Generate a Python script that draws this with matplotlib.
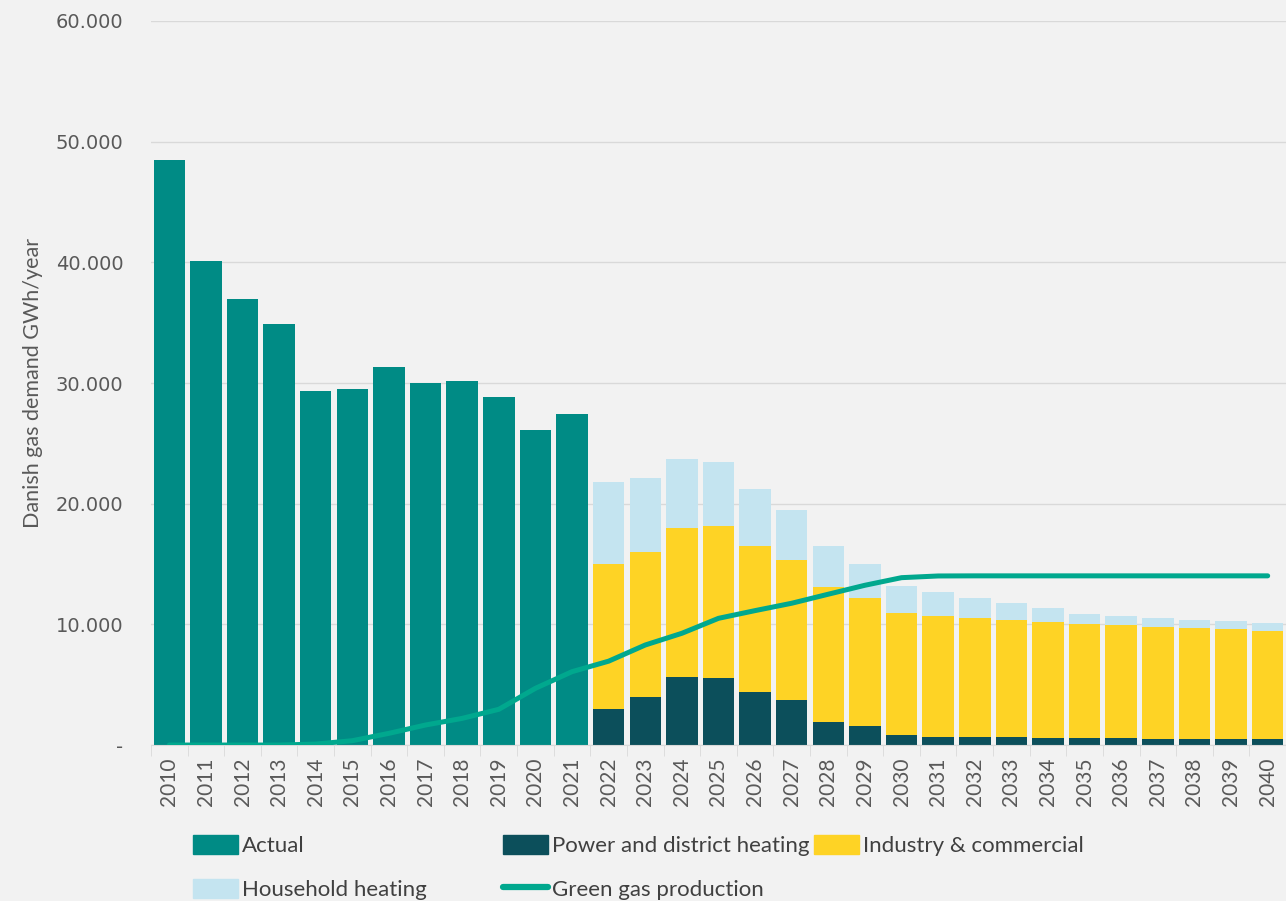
import matplotlib
matplotlib.use("Agg")
import matplotlib.pyplot as plt
import numpy as np
from matplotlib.patches import Patch
from matplotlib.lines import Line2D

years = [str(y) for y in range(2010, 2041)]

# actual demand 2010-2021 (GWh/year)
actual = [48500, 40100, 37000, 34900, 29300, 29500, 31300, 30000, 30200, 28800, 26100, 27400]

# forecast 2022-2040, stacked
power = [2960, 3950, 5610, 5530, 4420, 3730, 1930, 1570, 800, 690, 690, 690, 610, 550, 550, 500, 500, 500, 500]
industry_top = [14980, 15980, 17970, 18130, 16500, 15370, 13080, 12190, 10950, 10700, 10560, 10370, 10170, 10000, 9920, 9780, 9670, 9590, 9480]
total_top = [21830, 22160, 23690, 23470, 21250, 19490, 16500, 15010, 13180, 12660, 12210, 11800, 11330, 10860, 10670, 10530, 10390, 10280, 10140]

green_gas = [0, 0, 0, 0, 80, 360, 970, 1660, 2210, 2960, 4700, 6080, 6950, 8290, 9260, 10500, 11140,
             11750, 12500, 13240, 13870, 14010, 14020, 14020, 14020, 14020, 14020, 14020, 14020, 14020, 14020]

industry = [t - p for t, p in zip(industry_top, power)]
household = [t - i for t, i in zip(total_top, industry_top)]

c_actual = "#008B85"
c_power = "#0C4F5B"
c_ind = "#FED325"
c_house = "#C4E4F0"
c_green = "#00A88E"
bg = "#F2F2F2"

fam = ["Lato", "DejaVu Sans"]

fig = plt.figure(figsize=(12.86, 9.01), dpi=100, facecolor=bg)
ax = fig.add_axes([0.1174, 0.1731, 0.8826, 0.8036])
ax.set_facecolor(bg)

x = np.arange(len(years))
xa = x[:len(actual)]
xf = x[len(actual):]
w = 0.86

ax.bar(xa, actual, width=w, color=c_actual, zorder=2)
ax.bar(xf, power, width=w, color=c_power, zorder=2)
ax.bar(xf, industry, width=w, bottom=power, color=c_ind, zorder=2)
ax.bar(xf, household, width=w, bottom=industry_top, color=c_house, zorder=2)
ax.plot(x, green_gas, color=c_green, lw=3.6, solid_capstyle="round", solid_joinstyle="round", zorder=3)

ax.set_xlim(-0.5, len(years) - 0.5)
ax.set_ylim(0, 60000)
ax.set_yticks(range(0, 60001, 10000))
ax.set_yticklabels(["-"] + [f"{v:,}".replace(",", ".") for v in range(10000, 60001, 10000)])
ax.yaxis.grid(True, color="#D9D9D9", lw=1)
ax.set_axisbelow(True)
for s in ["top", "right", "left"]:
    ax.spines[s].set_visible(False)
ax.spines["bottom"].set_color("#D9D9D9")

ax.set_xticks(x)
ax.set_xticklabels(years, rotation=90, family=fam, fontsize=15, color="#595959")
ax.set_xticks(np.arange(-0.5, len(years), 1), minor=True)
ax.tick_params(axis="x", which="major", length=0, pad=9)
ax.tick_params(axis="x", which="minor", length=8, color="#D9D9D9")
ax.tick_params(axis="y", length=0, pad=20, labelsize=14, labelcolor="#595959")

ax.set_ylabel("Danish gas demand GWh/year", family=fam, fontsize=15.5, color="#595959")
ax.yaxis.set_label_coords(-0.095, 0.5)

h_actual = Patch(color=c_actual, label="Actual")
h_house = Patch(color=c_house, label="Household heating")
h_power = Patch(color=c_power, label="Power and district heating")
h_green = Line2D([], [], color=c_green, lw=4.5, solid_capstyle="round", label="Green gas production")
h_ind = Patch(color=c_ind, label="Industry & commercial")

leg_kw = dict(frameon=False, loc="upper left", borderaxespad=0, borderpad=0,
              prop={"family": fam, "size": 16}, labelcolor="#404040",
              handlelength=2.05, handleheight=0.95, handletextpad=0.15, labelspacing=1.0)
leg1 = fig.legend(handles=[h_actual, h_house], bbox_to_anchor=(0.150, 0.073), **leg_kw)
leg2 = fig.legend(handles=[h_power, h_green, h_ind], ncol=2, columnspacing=0.2,
                  bbox_to_anchor=(0.391, 0.073), **leg_kw)

fig.savefig("out.png", dpi=100, facecolor=bg)
